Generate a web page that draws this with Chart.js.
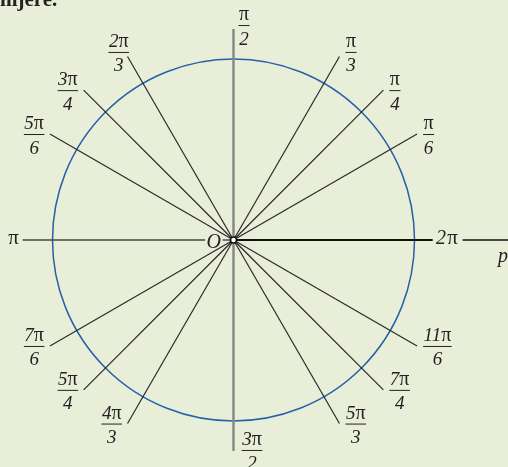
<!DOCTYPE html>
<html><head><meta charset="utf-8">
<script src="https://cdn.jsdelivr.net/npm/chart.js@4/dist/chart.umd.min.js"></script>
<style>
html,body{margin:0;padding:0;background:#E9EED9;overflow:hidden}
canvas{display:block}
</style></head><body>
<canvas id="c" width="508" height="467"></canvas>
<script>
// Angles of the rays, in multiples of π
const rayAngles = [1/6, 1/4, 1/3, 2/3, 3/4, 5/6, 7/6, 5/4, 4/3, 5/3, 7/4, 11/6];
const rayNumerators = ['π','π','π','2π','3π','5π','7π','5π','4π','5π','7π','11π'];
const rayDenominators = ['6','4','3','3','4','6','6','4','3','3','4','6'];
const upLabel = ['π','2'];
const downLabel = ['3π','2'];
const leftLabel = 'π';
const rightLabel = '2π';
const originLabel = 'O';
const axisName = 'p';
const headerText = 'nijere.';

// style: small horizontal nudges of individual labels (px)
const labelNudge = [0, 0, 0, 7, 0, 0, 0, 0, 0, 0, 0, 0];

const RAY = 1.171, AX = 1.1655;
const CX = 233.5, CY = 240, UNIT = 181;
const W = 508, H = 467;

const rayDatasets = rayAngles.map(a => ({
  data: [{x:0,y:0},{x:RAY*Math.cos(a*Math.PI), y:RAY*Math.sin(a*Math.PI)}],
  showLine:true, pointRadius:0, borderColor:'#2a2a2a', borderWidth:1.2, clip:false
}));
const axisDatasets = [
  {data:[{x:0,y:-AX},{x:0,y:AX}], borderColor:'#858585', borderWidth:2.4},
  {data:[{x:-1.165,y:0},{x:-0.157,y:0}], borderColor:'#444', borderWidth:1.4},
  {data:[{x:-0.06,y:0},{x:0,y:0}], borderColor:'#444', borderWidth:1.4},
  {data:[{x:0,y:0},{x:1.1005,y:0}], borderColor:'#111', borderWidth:2},
  {data:[{x:1.266,y:0},{x:1.7,y:0}], borderColor:'#111', borderWidth:1.6}
].map(d => Object.assign({showLine:true, pointRadius:0, clip:false}, d));

const SERIF = '"Liberation Serif","DejaVu Serif",serif';
const FI = 'italic 19px ' + SERIF, FP = '20px ' + SERIF;
function numWidth(ctx, s){
  const digits = s.replace('π','');
  ctx.font = FI;
  let w = ctx.measureText(digits).width;
  ctx.font = FP;
  if (s.includes('π')) w += ctx.measureText('π').width;
  return w;
}
function drawNum(ctx, s, cx, base){
  const digits = s.replace('π','');
  const w = numWidth(ctx, s);
  let x = cx - w/2;
  ctx.textAlign = 'left'; ctx.textBaseline = 'alphabetic';
  ctx.font = FI;
  if (digits){ ctx.fillText(digits, x, base); x += ctx.measureText(digits).width; }
  ctx.font = FP;
  if (s.includes('π')) ctx.fillText('π', x, base);
}
function fracWidth(ctx, n, d){
  ctx.font = FI;
  return Math.max(numWidth(ctx, n), ctx.measureText(d).width) + 1;
}
function drawFrac(ctx, n, d, cx, barY){
  const w = fracWidth(ctx, n, d);
  ctx.fillStyle = '#222';
  drawNum(ctx, n, cx, barY - 5);
  ctx.font = FI;
  ctx.textAlign = 'center';
  ctx.fillText(d, cx, barY + 19.5);
  ctx.strokeStyle = '#222'; ctx.lineWidth = 1;
  ctx.beginPath(); ctx.moveTo(cx - w/2, barY + 0.5); ctx.lineTo(cx + w/2, barY + 0.5); ctx.stroke();
}

const deco = {
  id:'deco',
  beforeDraw(chart){
    const ctx = chart.ctx;
    ctx.save(); ctx.fillStyle = '#E9EED9'; ctx.fillRect(0,0,chart.width,chart.height); ctx.restore();
  },
  beforeDatasetsDraw(chart){
    const ctx = chart.ctx, xs = chart.scales.x, ys = chart.scales.y;
    const cx = xs.getPixelForValue(0), cy = ys.getPixelForValue(0);
    const r = xs.getPixelForValue(1) - cx;
    ctx.save();
    ctx.strokeStyle = '#2461a8'; ctx.lineWidth = 1.5;
    ctx.beginPath(); ctx.arc(cx, cy, r, 0, Math.PI*2); ctx.stroke();
    ctx.restore();
  },
  afterDatasetsDraw(chart){
    const ctx = chart.ctx, xs = chart.scales.x, ys = chart.scales.y;
    const cx = xs.getPixelForValue(0), cy = ys.getPixelForValue(0);
    ctx.save();
    // origin dot
    ctx.fillStyle = '#fff'; ctx.strokeStyle = '#111'; ctx.lineWidth = 1.5;
    ctx.beginPath(); ctx.arc(cx, cy, 3, 0, Math.PI*2); ctx.fill(); ctx.stroke();
    // ray labels
    rayAngles.forEach((a, i) => {
      const c = Math.cos(a*Math.PI), s = Math.sin(a*Math.PI);
      const ex = xs.getPixelForValue(RAY*c), ey = ys.getPixelForValue(RAY*s);
      const w = fracWidth(ctx, rayNumerators[i], rayDenominators[i]);
      const fx = (c > 0 ? ex + 6 + w/2 : ex - 5.5 - w/2) + labelNudge[i];
      const fy = ey + (s > 0.8 ? -4.5 : 0);
      drawFrac(ctx, rayNumerators[i], rayDenominators[i], fx, fy);
    });
    const top = ys.getPixelForValue(AX), bot = ys.getPixelForValue(-AX);
    drawFrac(ctx, upLabel[0], upLabel[1], cx + 10.5, top - 4);
    drawFrac(ctx, downLabel[0], downLabel[1], cx + 18.5, bot - 1);
    // axis end labels
    ctx.fillStyle = '#222'; ctx.textBaseline = 'alphabetic';
    ctx.font = '21px ' + SERIF; ctx.textAlign = 'center';
    ctx.fillText(leftLabel, 13.5, cy + 4);
    ctx.font = 'italic 20px ' + SERIF;
    ctx.fillText(rightLabel.replace('π',''), 441, cy + 4);
    ctx.font = '21px ' + SERIF; ctx.fillText('π', 452.5, cy + 4);
    ctx.font = 'italic 20px ' + SERIF; ctx.textAlign = 'left';
    ctx.fillText(originLabel, 206.5, cy + 8);
    ctx.fillText(axisName, 498, cy + 22);
    ctx.font = 'bold 21px ' + SERIF;
    ctx.fillText(headerText, 0, 6);
    ctx.restore();
  }
};

new Chart(document.getElementById('c'), {
  type:'scatter',
  data:{datasets:[...axisDatasets, ...rayDatasets]},
  options:{
    responsive:false, animation:false,
    layout:{padding:0},
    plugins:{legend:{display:false}, tooltip:{enabled:false}},
    scales:{
      x:{type:'linear', display:false, min:-CX/UNIT, max:(W-CX)/UNIT},
      y:{type:'linear', display:false, min:-(H-CY)/UNIT, max:CY/UNIT}
    }
  },
  plugins:[deco]
});
</script>
</body></html>
